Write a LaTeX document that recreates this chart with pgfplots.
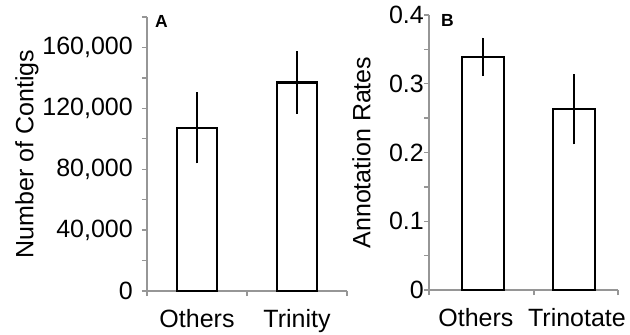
\documentclass[border=0pt]{standalone}
\usepackage{pgfplots}
\pgfplotsset{compat=1.18}
\usepackage{fontspec}
\setmainfont{Liberation Sans}
\definecolor{axgray}{RGB}{150,150,150}
\begin{document}
\begin{tikzpicture}
\path[use as bounding box] (0pt,0pt) rectangle (630pt,-335pt);
\pgfplotsset{
  common/.style={
    scale only axis,
    axis lines*=left,
    axis line style={axgray, line width=1.6pt},
    every tick/.style={axgray, line width=1.3pt},
    tick align=outside,
    major tick length=5pt, minor tick length=5pt,
    enlargelimits=false,
    ymin=0,
    clip=false,
    font=\fontsize{25}{30}\selectfont,
    /pgf/number format/assume math mode=true,
    scaled y ticks=false,
    yticklabel style={anchor=east, inner sep=0pt},
    xticklabel style={anchor=north, inner sep=0pt, yshift=-18pt},
    xticklabels={},
    extra x tick style={major tick length=0pt},
    ylabel style={anchor=north, inner sep=0pt},
    ybar,
  },
  barstyle/.style={fill=white, draw=black, line width=2.3pt,
    error bars/.cd, y dir=both, y explicit, error mark=none,
    error bar style={black, line width=2.3pt}},
}
% Panel A
\begin{axis}[common,
  at={(147pt,-291pt)}, anchor=south west,
  width=200pt, height=274pt,
  xmin=-0.5, xmax=1.5, ymax=180000,
  bar width=40pt,
  xtick={-0.5,0.5,1.5},
  extra x ticks={0,1}, extra x tick labels={Others,Trinity},
  ytick={0,40000,80000,120000,160000},
  yticklabels={0,{40,000},{80,000},{120,000},{160,000}},
  minor ytick={20000,60000,100000,140000,180000},
  yticklabel style={xshift=-9pt},
  ylabel={Number of Contigs},
  ylabel style={at={(axis description cs:-0.66,0.5)}},
]
\addplot[barstyle]
  coordinates {(0,107300) +- (0,23400) (1,137000) +- (0,20400)};
\end{axis}
% Panel B
\begin{axis}[common,
  at={(429pt,-290pt)}, anchor=south west,
  width=189pt, height=275pt,
  xmin=-0.593, xmax=1.484, ymax=0.4,
  bar width=42pt,
  xtick={-0.593,0.56,1.484},
  extra x ticks={-0.077,1.033}, extra x tick labels={Others,Trinotate},
  ytick={0,0.1,0.2,0.3,0.4},
  yticklabels={0,0.1,0.2,0.3,0.4},
  minor ytick={0.05,0.15,0.25,0.35},
  yticklabel style={xshift=0pt},
  ylabel={Annotation Rates},
  ylabel style={at={(axis description cs:-0.407,0.5)}},
]
\addplot[barstyle]
  coordinates {(0,0.339) +- (0,0.028) (1,0.263) +- (0,0.051)};
\end{axis}
\node[anchor=north west, inner sep=0pt, font=\fontsize{17.5}{20}\selectfont\bfseries] at (155pt,-15pt) {A};
\node[anchor=north west, inner sep=0pt, font=\fontsize{17.5}{20}\selectfont\bfseries] at (441pt,-14pt) {B};
\end{tikzpicture}
\end{document}
